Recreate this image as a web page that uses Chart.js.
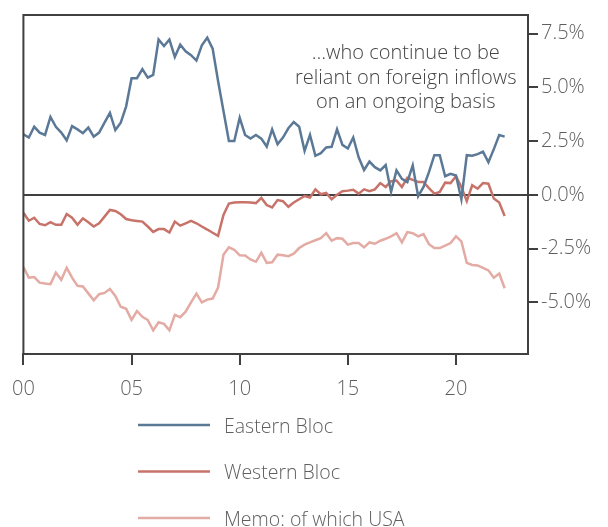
<!DOCTYPE html>
<html>
<head>
<meta charset="utf-8">
<script src="https://cdn.jsdelivr.net/npm/chart.js@4.4.1/dist/chart.umd.min.js"></script>
<style>
  html, body { margin: 0; padding: 0; background: #ffffff; }
  #wrap { width: 608px; height: 527px; position: relative; }
</style>
</head>
<body>
<div id="wrap"><canvas id="c" width="608" height="527"></canvas></div>
<script>
// ---- Data (quarterly, 2000Q1 .. 2022Q2), % of GDP ----
const startYear = 2000;
const seriesNames = ["Eastern Bloc", "Western Bloc", "Memo: of which USA"];
const eastern = [2.82,2.67,3.17,2.9,2.79,3.63,3.17,2.9,2.54,3.2,
  3.05,2.87,3.13,2.71,2.9,3.36,3.82,3.02,3.36,4.12,
  5.43,5.43,5.85,5.46,5.58,7.23,6.93,7.23,6.42,6.99,
  6.68,6.5,6.25,6.96,7.31,6.8,5.3,3.9,2.51,2.51,
  3.59,2.79,2.62,2.79,2.62,2.25,3.05,2.36,2.67,3.1,
  3.39,3.17,2.05,2.79,1.82,1.94,2.21,2.24,3.05,2.33,
  2.16,2.67,1.75,1.16,1.55,1.29,1.14,1.39,0.14,1.14,
  0.75,0.6,1.37,-0.06,0.37,1.06,1.85,1.85,0.87,0.98,
  0.9,-0.2,1.85,1.82,1.9,2.01,1.52,2.13,2.79,2.71];
const western = [-0.83,-1.2,-1.06,-1.35,-1.41,-1.27,-1.39,-1.39,-0.89,-1.06,
  -1.39,-1.09,-1.27,-1.47,-1.32,-1.01,-0.7,-0.75,-0.9,-1.12,
  -1.18,-1.21,-1.24,-1.47,-1.72,-1.59,-1.59,-1.75,-1.24,-1.43,
  -1.32,-1.21,-1.32,-1.47,-1.61,-1.76,-1.9,-0.93,-0.4,-0.35,
  -0.34,-0.34,-0.35,-0.38,-0.14,-0.47,-0.58,-0.24,-0.29,-0.55,
  -0.35,-0.2,-0.05,-0.12,0.26,0.03,0.09,-0.2,0.01,0.17,
  0.2,0.24,0.06,0.26,0.17,0.26,0.55,0.37,0.64,0.67,
  0.37,0.8,0.7,0.6,0.6,0.32,0.06,0.14,0.57,0.55,
  0.87,0.37,-0.29,0.45,0.29,0.55,0.52,-0.17,-0.35,-0.98];
const usa = [-3.36,-3.85,-3.82,-4.08,-4.12,-4.15,-3.62,-3.95,-3.39,-3.85,
  -4.23,-4.26,-4.58,-4.9,-4.62,-4.56,-4.38,-4.7,-5.2,-5.3,
  -5.81,-5.4,-5.67,-5.82,-6.3,-5.92,-6.0,-6.3,-5.58,-5.69,
  -5.43,-5.0,-4.59,-5.0,-4.87,-4.82,-4.31,-2.78,-2.44,-2.55,
  -2.81,-2.82,-3.0,-3.11,-2.69,-3.16,-3.13,-2.78,-2.81,-2.85,
  -2.73,-2.47,-2.31,-2.21,-2.11,-2.01,-1.78,-2.13,-2.01,-2.04,
  -2.31,-2.24,-2.24,-2.44,-2.21,-2.27,-2.13,-2.04,-1.93,-1.78,
  -2.21,-1.73,-1.78,-1.93,-1.82,-2.29,-2.47,-2.47,-2.36,-2.24,
  -1.93,-2.16,-3.16,-3.26,-3.28,-3.39,-3.51,-3.85,-3.66,-4.34];
const xTickYears = [0, 5, 10, 15, 20];          // shown as 00, 05, 10, 15, 20
const yTickValues = [-5, -2.5, 0, 2.5, 5, 7.5];
const annotationLines = ["\u2026who continue to be", "reliant on foreign inflows", "on an ongoing basis"];

// quarter index -> years since 2000
const toPoints = arr => arr.map((v, i) => ({ x: i / 4, y: v }));

const colors = ["#5b7997", "#c7736a", "#e3aba4"];
const FONT = "'Open Sans', 'Noto Sans', sans-serif";
const TXT = "#5f5f5f";
const AXIS = "#404040";

const framePlugin = {
  id: 'frame',
  afterDraw(chart) {
    const { ctx, chartArea: a } = chart;
    ctx.save();
    ctx.strokeStyle = AXIS;
    ctx.lineWidth = 2;
    ctx.strokeRect(a.left, a.top, a.right - a.left, a.bottom - a.top);
    // annotation
    const xs = chart.scales.x, ys = chart.scales.y;
    ctx.fillStyle = "#444444";
    ctx.font = "300 20px " + FONT;
    ctx.textAlign = "center";
    ctx.textBaseline = "middle";
    const cx = xs.getPixelForValue(17.68);
    const y0 = ys.getPixelForValue(6.57);
    annotationLines.forEach((t, k) => ctx.fillText(t, cx, y0 + k * 24.5));
    // legend (vertical list)
    const lx0 = 138, lx1 = 210;
    chart.data.datasets.forEach((ds, k) => {
      const ly = a.bottom + 71 + k * 46.5;
      ctx.strokeStyle = ds.borderColor;
      ctx.lineWidth = 2.5;
      ctx.beginPath(); ctx.moveTo(lx0, ly); ctx.lineTo(lx1, ly); ctx.stroke();
      ctx.fillStyle = TXT;
      ctx.textAlign = "left";
      ctx.font = "300 19.5px " + FONT;
      ctx.fillText(ds.label, 224, ly + 2);
    });
    ctx.restore();
  }
};

new Chart(document.getElementById('c'), {
  type: 'line',
  data: {
    datasets: [eastern, western, usa].map((arr, k) => ({
      label: seriesNames[k],
      data: toPoints(arr),
      borderColor: colors[k],
      backgroundColor: colors[k],
      borderWidth: 2.5,
      pointRadius: 0,
      tension: 0,
      fill: false
    }))
  },
  options: {
    responsive: false,
    animation: false,
    layout: { padding: { left: 21, top: 12, right: 0, bottom: 123 } },
    plugins: { legend: { display: false }, tooltip: { enabled: false }, title: { display: false } },
    scales: {
      x: {
        type: 'linear',
        min: 0,
        max: 23.33,
        afterBuildTicks: s => { s.ticks = xTickYears.map(v => ({ value: v })); },
        afterFit: s => { s.height = 50; },
        ticks: {
          callback: v => String(v).padStart(2, '0'),
          color: TXT,
          font: { family: FONT, size: 20, weight: 300 },
          padding: 12,
          maxRotation: 0
        },
        grid: { drawOnChartArea: false, drawTicks: true, tickLength: 11, tickColor: AXIS, lineWidth: 2, color: AXIS },
        border: { display: true, color: AXIS, width: 2 }
      },
      y: {
        type: 'linear',
        position: 'right',
        min: -7.4,
        max: 8.37,
        afterBuildTicks: s => { s.ticks = yTickValues.map(v => ({ value: v })); },
        afterFit: s => { s.width = 80; },
        ticks: {
          callback: v => v.toFixed(1) + '%',
          color: TXT,
          font: { family: FONT, size: 20, weight: 300 },
          padding: 3
        },
        grid: {
          drawOnChartArea: true,
          drawTicks: true,
          tickLength: 10,
          tickColor: AXIS,
          lineWidth: 2,
          color: c => (c.tick && c.tick.value === 0) ? AXIS : 'rgba(0,0,0,0)'
        },
        border: { display: true, color: AXIS, width: 2 }
      }
    }
  },
  plugins: [framePlugin]
});
</script>
</body>
</html>
